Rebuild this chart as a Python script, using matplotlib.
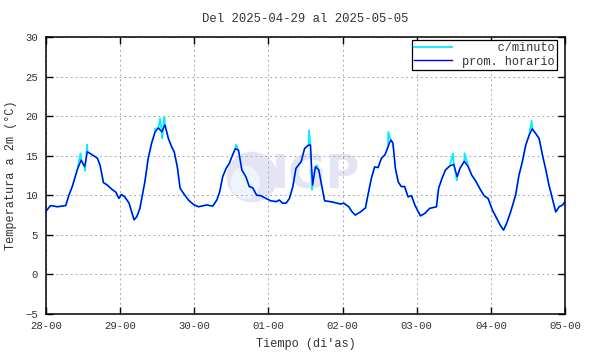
import numpy as np
import matplotlib
matplotlib.use('Agg')
import matplotlib.pyplot as plt
from matplotlib.patches import Ellipse

# promedio horario (horas desde 28-00, temperatura en C)
horas = [0, 1.5, 3.7, 6.4, 7.4, 8.5, 10.1, 11.4, 12.5, 13.4, 15.0, 16.6, 17.5, 18.6, 19.8,
         21.5, 22.6, 23.6, 24.4, 25.5, 26.9, 28.5, 29.4, 30.4, 31.3, 32.0, 33.1, 34.2, 35.3,
         36.4, 37.5, 38.5, 39.6, 40.7, 41.5, 42.5, 43.4, 44.5, 46.1, 47.7, 49.3, 52.0, 54.0,
         55.3, 56.2, 57.2, 58.3, 59.3, 60.4, 61.3, 62.3, 63.4, 64.7, 65.8, 66.9, 68.2, 69.6,
         71.2, 72.8, 74.5, 75.5, 76.6, 77.7, 78.8, 79.9, 80.9, 82.6, 83.7, 85.0, 85.6, 86.3,
         87.2, 88.3, 89.3, 90.2, 92.0, 93.7, 95.3, 96.4, 98.0, 99.1, 100.1, 101.8, 103.4,
         104.2, 105.3, 106.4, 107.5, 108.6, 109.7, 110.7, 111.6, 112.3, 113.1, 114.0, 115.0,
         116.1, 117.2, 118.3, 119.4, 120.2, 121.2, 122.6, 124.2, 126.4, 127.1, 128.2, 129.3,
         130.7, 132.0, 133.1, 134.0, 135.4, 136.7, 137.8, 139.1, 140.7, 141.8, 143.1, 144.5,
         145.6, 147.0, 148.1, 149.1, 150.4, 152.0, 153.1, 154.2, 155.3, 156.4, 157.4, 158.5,
         159.6, 160.7, 161.8, 162.8, 163.9, 165.0, 166.1, 167.2, 168.0]
temp = [8.0, 8.7, 8.55, 8.7, 10.0, 11.1, 13.2, 14.45, 13.6, 15.5, 15.1, 14.7, 13.8, 11.6, 11.3,
        10.7, 10.4, 9.6, 10.1, 9.8, 9.0, 6.9, 7.3, 8.35, 10.25, 11.7, 14.7, 16.6, 18.0,
        18.5, 18.0, 18.9, 17.2, 16.1, 15.5, 13.6, 10.9, 10.25, 9.4, 8.85, 8.55, 8.77, 8.64,
        9.4, 10.4, 12.35, 13.4, 14.0, 15.1, 15.9, 15.7, 13.2, 12.35, 11.1, 10.95, 10.0, 9.95,
        9.6, 9.3, 9.2, 9.4, 9.0, 9.0, 9.6, 11.1, 13.4, 14.25, 15.9, 16.35, 16.35, 11.3,
        13.6, 13.2, 11.1, 9.3, 9.2, 9.06, 8.9, 9.0, 8.55, 7.9, 7.5, 7.9, 8.4,
        10.0, 12.1, 13.6, 13.5, 14.7, 15.1, 16.1, 17.0, 16.6, 13.4, 11.7, 11.1,
        11.1, 9.8, 9.95, 8.77, 8.14, 7.4, 7.7, 8.35, 8.55, 10.9, 12.15, 13.2,
        13.7, 13.9, 12.35, 13.4, 14.3, 13.6, 12.55, 11.8, 10.65, 9.95, 9.6, 8.14,
        7.3, 6.25, 5.6, 6.45, 7.9, 10.0, 12.55, 14.25, 16.35, 17.6, 18.4, 17.8,
        17.2, 15.1, 13.2, 11.3, 9.6, 7.9, 8.55, 8.77, 9.2]

# picos de los datos por minuto
pico_h = [11.2, 12.6, 13.3, 35.3, 36.9, 37.6, 38.3, 61.5, 85.1, 86.1, 87.7, 110.8,
          131.8, 133.0, 135.5, 157.2]
pico_t = [15.3, 13.1, 16.4, 18.4, 19.7, 17.2, 19.9, 16.4, 18.2, 10.7, 13.8, 18.0,
          15.3, 11.9, 15.3, 19.4]

dias = ['28-00', '29-00', '30-00', '01-00', '02-00', '03-00', '04-00', '05-00']

orden = np.argsort(np.r_[horas, pico_h], kind='stable')
min_h = np.r_[horas, pico_h][orden]
min_t = np.r_[temp, pico_t][orden]

mono = ['Liberation Mono', 'DejaVu Sans Mono']
plt.rcParams['font.family'] = mono
gris = '#333333'

fig = plt.figure(figsize=(5.9, 3.54), dpi=100)
ax = fig.add_axes([46/590, 1-314/354, (565-46)/590, (314-37)/354])

# logo de fondo
ax.add_patch(Ellipse((66.7, 12.3), 16.5, 6.4, color='#e4e4f5', zorder=0, lw=0))
ax.add_patch(Ellipse((64.5, 11.6), 9.5, 4.2, color='#edf4fc', zorder=0, lw=0))
ax.text(73.0, 12.4, 'IGP', fontsize=33, fontweight='bold', family='DejaVu Sans',
        color='#e4e4f5', va='center', ha='left', zorder=0)

ax.plot(min_h, min_t, color='#00eeff', lw=1.3, label='     c/minuto', zorder=2)
ax.plot(horas, temp, color='#0000ee', lw=1.0, label='prom. horario', zorder=3)

ax.set_xlim(0, 168)
ax.set_ylim(-5, 30)
ax.set_xticks(np.arange(0, 169, 24))
ax.set_xticklabels(dias)
ax.set_yticks(np.arange(-5, 31, 5))
ax.grid(True, color='#aaaaaa', lw=0.7, linestyle=(0, (2, 3)))
ax.tick_params(direction='in', length=5, top=True, right=True, labelsize=7.7,
               labelcolor=gris, width=1)
ax.tick_params(axis='y', pad=6)
ax.tick_params(axis='x', pad=5)
for s in ax.spines.values():
    s.set_linewidth(1.1)

ax.set_title('Del 2025-04-29 al 2025-05-05', fontsize=8.8, color=gris, pad=11)
ax.set_xlabel("Tiempo (di'as)", fontsize=8.6, color=gris, labelpad=5)
ax.set_ylabel('Temperatura a 2m (°C)', fontsize=8.6, color=gris, labelpad=6)

leg = ax.legend(loc='upper right', bbox_to_anchor=(1 - 8/519, 1 - 3/277), fontsize=8.6,
                handlelength=3.2, fancybox=False, framealpha=1, edgecolor='black',
                borderaxespad=0, borderpad=0.2, labelspacing=0.1, handletextpad=0.8)
leg.get_frame().set_linewidth(0.9)
for t in leg.get_texts():
    t.set_color(gris)

fig.savefig('out.png', dpi=100)
